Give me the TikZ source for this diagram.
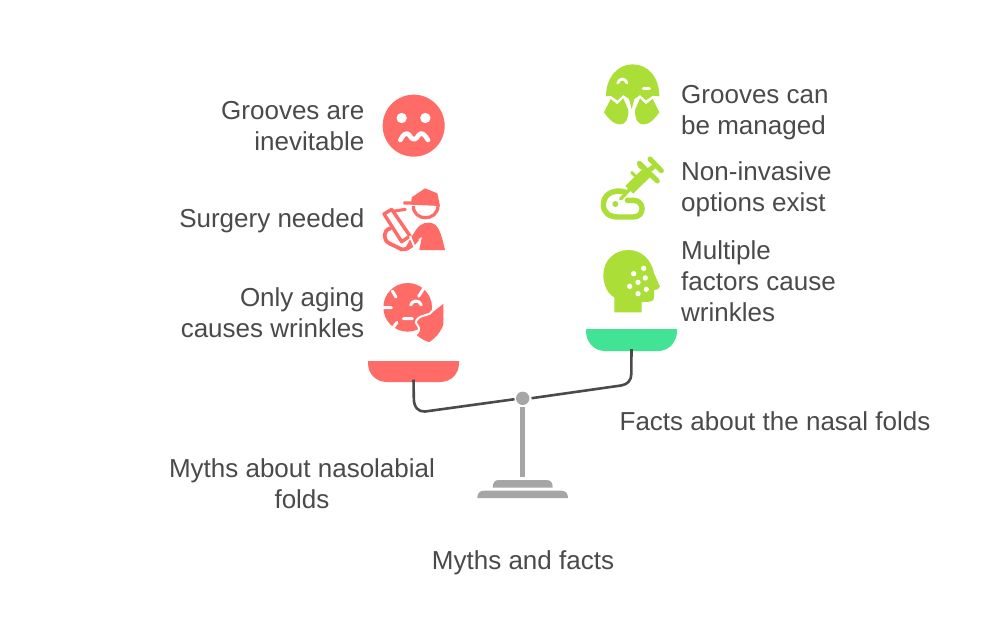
\documentclass[tikz,border=0pt]{standalone}
\usepackage{fontspec}
\setmainfont{Liberation Sans}
\definecolor{myred}{HTML}{FF6B66}
\definecolor{lime}{HTML}{ACDE38}
\definecolor{mint}{HTML}{43E396}
\definecolor{post}{HTML}{A6A6A6}
\definecolor{beam}{HTML}{4A4A4A}
\definecolor{ink}{HTML}{4A4A4A}
\tikzset{
  lbl/.style={inner sep=0pt,text=ink,font=\fontsize{26}{31}\selectfont},
  lbll/.style={lbl,align=right,anchor=east},
  lblr/.style={lbl,align=left,anchor=west},
  lblc/.style={lbl,align=center},
  beamline/.style={draw=beam,line width=2.6pt,line join=round},
  zoomed/.style={x=0.33333pt,y=-0.33333pt},
  cut/.style={draw=white,line cap=round,line join=round},
}
\begin{document}
\begin{tikzpicture}[x=1pt,y=-1pt]
\useasboundingbox[fill=white] (0,0) rectangle (1000,641);
% labels
\node[lbll] (t1) at (364.5,126) {Grooves are\\inevitable};
\node[lbll] (t2) at (364.5,221) {Surgery needed};
\node[lbll] (t3) at (364.5,312.5) {Only aging\\causes wrinkles};
\node[lblr] (t4) at (681,112.5) {Grooves can\\be managed};
\node[lblr] (t5) at (681,189.5) {Non-invasive\\options exist};
\node[lblr] (t6) at (681,281) {Multiple\\factors cause\\wrinkles};
\node[lblc] (t7) at (775,421) {Facts about the nasal folds};
\node[lblc] (t8) at (302,483.5) {Myths about nasolabial\\folds};
\node[lblc] (t9) at (523,563) {Myths and facts};
% pans
\path[fill=myred] (368,361) -- (459,361) -- (459,363) .. controls (459,374) and (451,382) .. (440,382) -- (387,382) .. controls (376,382) and (368,374) .. (368,363) -- cycle;
\node[inner sep=0pt,minimum width=0pt] (panL) at (413.5,382) {};
\path[fill=mint] (586,329) -- (677,329) -- (677,331) .. controls (677,342) and (669,351) .. (658,351) -- (605,351) .. controls (594,351) and (586,342) .. (586,331) -- cycle;
\node[inner sep=0pt,minimum width=0pt] (panR) at (631.5,351) {};
% scale
\node[circle,fill=post,inner sep=0pt,minimum size=13.4pt] (pivot) at (522.7,398.3) {};
\coordinate (bL) at (514.5,399.2);
\coordinate (bR) at (531.5,398.2);
\draw[beamline] ([yshift=2.5pt]panL.center) -- (413.8,398) .. controls (413.8,407) and (418,412) .. (425,411.5) -- (bL);
\draw[beamline] (bR) -- (621,385.5) .. controls (628,384.5) and (631.3,380) .. (631.3,374) -- ([yshift=2pt]panR.center);
\fill[post] (520,407.3) rectangle (525.3,477.3);
\path[fill=post] (492.7,487.7) .. controls (492.7,482) and (495,480) .. (499,480) -- (546,480) .. controls (550.5,480) and (552.7,482) .. (552.7,487.7) -- cycle;
\path[fill=post] (477.3,498) .. controls (477.3,493) and (480,490.7) .. (484,490.7) -- (561,490.7) .. controls (565.5,490.7) and (568,493) .. (568,498) -- cycle;
% sad face
\begin{scope}[shift={(360,80)},zoomed]
\fill[myred] (161,137) circle[radius=93];
\fill[white] (125,114) circle[radius=15.5] (196,114) circle[radius=15.5];
\draw[cut,line width=4.6pt] (121,180) .. controls (130,162) and (140,156) .. (147,164) .. controls (152,172) and (156,178) .. (162,178) .. controls (168,178) and (172,172) .. (177,164) .. controls (184,156) and (194,162) .. (204,180);
% worker
\path[fill=myred] (155,352) -- (195,325) -- (232,340) -- (240,378) -- (150,374) -- (132,374) .. controls (128,370) and (128,366) .. (132,364) -- (154,364) -- cycle;
\draw[myred,line width=3.2pt] (160,378) .. controls (160,425) and (232,425) .. (234,378);
\path[fill=myred] (135,505) -- (160,462) .. controls (175,435) and (190,428) .. (205,428) .. controls (235,428) and (242,455) .. (255,510) -- (178,510) -- (186,470) -- cycle;
\draw[myred,line width=3.4pt,line join=round,line cap=round] (72,402) -- (95,388) -- (150,468) -- (125,485) -- cycle;
\draw[myred,line width=3pt,line cap=round] (98,394) -- (136,388);
\draw[myred,line width=3.8pt,line cap=round] (92,445) .. controls (68,450) and (68,480) .. (88,490) -- (125,508) .. controls (150,510) and (160,490) .. (172,478);
\draw[white,line width=2pt] (150,468) -- (165,505);
\end{scope}
% aging face
\begin{scope}[shift={(360,270)},zoomed]
\fill[myred] (143,112) circle[radius=73];
\draw[cut,line width=3pt] (97,63) -- (108,81) (190,57) -- (176,79) (70,113) -- (94,113) (97,176) -- (111,157) (130,146) -- (157,146);
\draw[cut,line width=3pt] (152,105) .. controls (156,90) and (178,88) .. (184,105);
\path[fill=myred,draw=white,line width=2pt,line join=round] (170,150) .. controls (185,130) and (210,140) .. (218,122) -- (253,95) -- (253,165) .. controls (245,190) and (225,210) .. (208,220) .. controls (190,215) and (175,205) .. (165,195) .. controls (180,185) and (180,175) .. (172,165) .. controls (166,160) and (166,155) .. (170,150) -- cycle;
\end{scope}
% dome and lobes
\begin{scope}[shift={(590,55)},zoomed]
\path[fill=lime] (48,124) .. controls (48,65) and (85,28) .. (128,28) .. controls (172,28) and (208,65) .. (208,124) -- (188,122) -- (168,136) -- (150,120) -- (133,132) -- (125,162) -- (117,132) -- (100,120) -- (82,136) -- (62,122) -- cycle;
\draw[cut,line width=2.8pt] (83,84) .. controls (90,68) and (105,68) .. (111,84);
\draw[cut,line width=3.2pt] (160,100) -- (178,100);
\path[fill=lime,line join=round] (42,172) -- (62,132) -- (82,148) -- (100,130) -- (115,165) .. controls (115,190) and (110,208) .. (88,208) .. controls (70,208) and (55,190) .. (42,172) -- cycle;
\path[fill=lime,line join=round] (208,172) -- (188,132) -- (168,148) -- (150,130) -- (135,165) .. controls (135,190) and (140,208) .. (162,208) .. controls (180,208) and (195,190) .. (208,172) -- cycle;
% syringe
\draw[lime,line width=5pt,line cap=round] (148,325) -- (202,378);
\draw[lime,line width=5pt,line cap=round] (180,312) -- (214,347);
\draw[lime,line width=5pt] (165,355) -- (198,330);
\draw[lime,line width=11pt] (118,404) -- (170,353);
\draw[lime,line width=3pt,line cap=round] (155,340) -- (147,332) (135,362) -- (125,352);
\draw[lime,line width=3.4pt,line cap=round] (120,402) -- (92,432);
\draw[lime,line width=5.4pt,line cap=round,line join=round] (106,412) .. controls (90,404) and (42,405) .. (40,448) .. controls (40,475) and (60,486) .. (85,486) -- (130,486) .. controls (165,486) and (165,436) .. (130,436) -- (112,436);
\fill[lime] (76,447) circle[radius=9];
\end{scope}
% head
\begin{scope}[shift={(580,240)},zoomed]
\path[fill=lime,line join=round] (103,217) -- (103,172) .. controls (80,160) and (70,130) .. (70,105) .. controls (70,60) and (105,30) .. (145,30) .. controls (185,30) and (215,60) .. (222,100) -- (240,140) .. controls (238,148) and (228,150) .. (222,150) -- (222,172) .. controls (222,185) and (212,186) .. (185,186) -- (185,217) -- cycle;
\fill[white] (191,85) circle[radius=8] (161,101) circle[radius=8] (196,114) circle[radius=8] (174,127) circle[radius=8] (149,139) circle[radius=8] (199,148) circle[radius=8] (174,161) circle[radius=8];
\end{scope}
\end{tikzpicture}
\end{document}
